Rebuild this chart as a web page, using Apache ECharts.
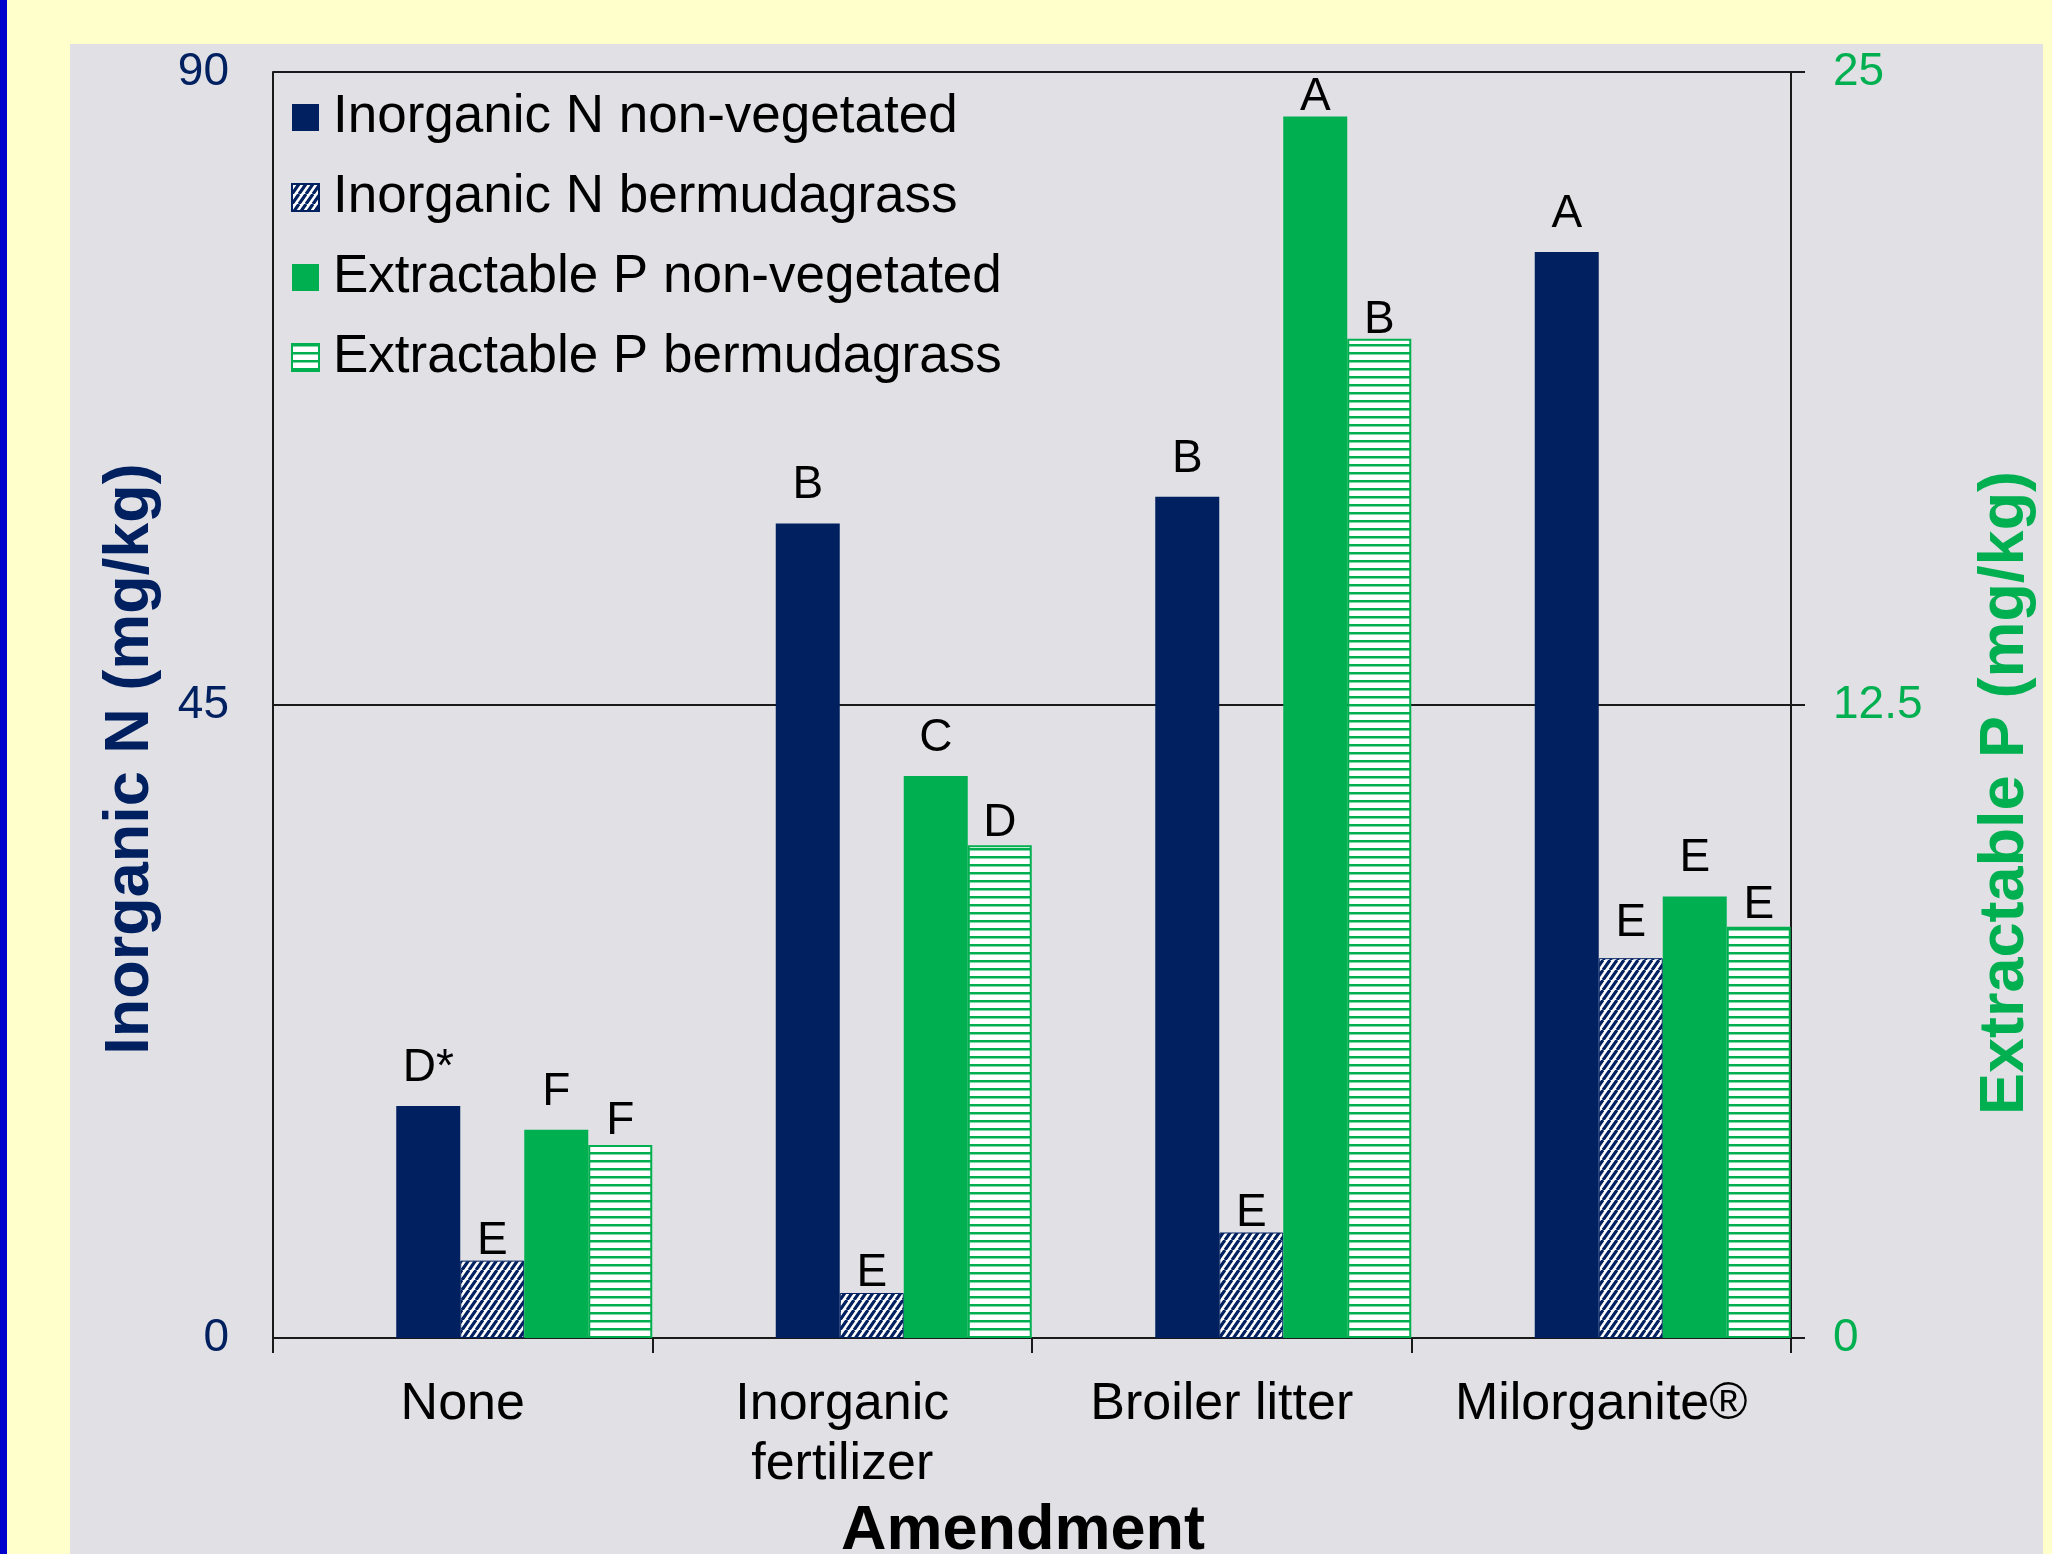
<!DOCTYPE html>
<html>
<head>
<meta charset="utf-8">
<title>Inorganic N and extractable P by amendment</title>
<script src="https://cdn.jsdelivr.net/npm/echarts@6/dist/echarts.min.js"></script>
<style>
  html, body { margin: 0; padding: 0; }
  body { width: 2052px; height: 1554px; background: #ffffcc; position: relative; overflow: hidden; }
  .stripe { position: absolute; left: 0; top: 0; width: 7px; height: 100%; background: #0000cc; }
  .panel { position: absolute; left: 70px; top: 44px; width: 1973px; bottom: 0; background: #e0e0e5; }
  #chart { position: absolute; left: 0; top: 0; width: 2052px; height: 1554px; }
</style>
</head>
<body>
<div class="stripe"></div>
<div class="panel"></div>
<div id="chart"></div>
<script>
  // data
  const categories = ['None', 'Inorganic\nfertilizer', 'Broiler litter', 'Milorganite®'];
  const nNonVeg = [16.5, 57.9, 59.8, 77.2];
  const nBermuda = [5.5, 3.2, 7.5, 27.0];
  const pNonVeg = [4.11, 11.1, 24.12, 8.72];
  const pBermuda = [3.81, 9.73, 19.73, 8.12];
  const nNonVegLetters = ['D*', 'B', 'B', 'A'];
  const nBermudaLetters = ['E', 'E', 'E', 'E'];
  const pNonVegLetters = ['F', 'C', 'A', 'E'];
  const pBermudaLetters = ['F', 'D', 'B', 'E'];
  const nTicks = [0, 45, 90];
  const pTicks = [0, 12.5, 25];

  const NAVY = '#002060';
  const GREEN = '#00b050';
  const AXIS = '#1a1a1a';
  const FONT = '"Liberation Sans", Arial, sans-serif';

  // the letters were hand placed in the original, so gaps above bars differ a little
  const nNonVegGap = [15, 15, 15, 15];
  const nBermudaGap = [-4, -3, -4, 12];
  const pNonVegGap = [15, 15, -4, 15];
  const pBermudaGap = [1, -1, -4, -2];

  // diagonal navy hatch
  function hatchPattern() {
    const c = document.createElement('canvas');
    c.width = 7; c.height = 10;
    const g = c.getContext('2d');
    g.fillStyle = '#ffffff';
    g.fillRect(0, 0, 7, 10);
    g.strokeStyle = NAVY;
    g.lineWidth = 3.2;
    g.beginPath();
    [-7, 0, 7].forEach(function (dx) {
      g.moveTo(dx, 10);
      g.lineTo(dx + 7, 0);
    });
    g.stroke();
    return c;
  }

  // horizontal green lines
  function linePattern() {
    const c = document.createElement('canvas');
    c.width = 8; c.height = 8;
    const g = c.getContext('2d');
    g.fillStyle = '#ffffff';
    g.fillRect(0, 0, 8, 8);
    g.fillStyle = GREEN;
    g.fillRect(0, 0, 8, 2.5);
    return c;
  }

  function withLabels(values, letters, gaps) {
    return values.map(function (v, i) {
      return {
        value: v,
        label: {
          show: true,
          position: 'top',
          distance: gaps[i],
          fontSize: 46,
          fontFamily: FONT,
          color: '#000',
          formatter: letters[i]
        }
      };
    });
  }

  const chart = echarts.init(document.getElementById('chart'));

  const option = {
    animation: false,
    textStyle: { fontFamily: FONT },
    grid: { left: 273, right: 261, top: 72, bottom: 216, containLabel: false, outerBoundsMode: 'none' },
    legend: {
      data: ['Inorganic N non-vegetated', 'Inorganic N bermudagrass', 'Extractable P non-vegetated', 'Extractable P bermudagrass'],
      orient: 'vertical',
      left: 291,
      top: 91,
      padding: 0,
      itemWidth: 27,
      itemHeight: 27,
      itemGap: 27,
      icon: 'rect',
      textStyle: { fontSize: 53, color: '#000', lineHeight: 53, fontFamily: FONT, padding: [0, 0, 0, 9] }
    },
    xAxis: {
      type: 'category',
      data: categories,
      axisLine: { lineStyle: { color: AXIS, width: 2 } },
      axisTick: { show: true, length: 15, lineStyle: { color: AXIS, width: 2 } },
      axisLabel: { interval: 0, fontSize: 52, color: '#000', lineHeight: 60, margin: 37 },
      name: 'Amendment',
      nameLocation: 'middle',
      nameGap: 161,
      nameTextStyle: { fontSize: 63, fontWeight: 'bold', color: '#000', lineHeight: 63, padding: [0, 18, 0, 0] }
    },
    yAxis: [
      {
        type: 'value',
        position: 'left',
        min: nTicks[0],
        max: nTicks[nTicks.length - 1],
        interval: nTicks[1] - nTicks[0],
        axisLine: { show: true, lineStyle: { color: AXIS, width: 2 } },
        axisTick: { show: false },
        splitLine: { show: true, lineStyle: { color: AXIS, width: 2 } },
        axisLabel: { fontSize: 46, color: NAVY, margin: 44 },
        name: 'Inorganic N (mg/kg)',
        nameLocation: 'middle',
        nameRotate: 90,
        nameGap: 111,
        nameTextStyle: { fontSize: 63, fontWeight: 'bold', color: NAVY, padding: [0, 108, 0, 0] }
      },
      {
        type: 'value',
        position: 'right',
        min: pTicks[0],
        max: pTicks[pTicks.length - 1],
        interval: pTicks[1] - pTicks[0],
        axisLine: { show: true, lineStyle: { color: AXIS, width: 2 } },
        axisTick: { show: true, length: 14, lineStyle: { color: AXIS, width: 2 } },
        splitLine: { show: false },
        axisLabel: { fontSize: 46, color: GREEN, margin: 42 },
        name: 'Extractable P (mg/kg)',
        nameLocation: 'middle',
        nameRotate: 90,
        nameGap: 183,
        nameTextStyle: { fontSize: 63, fontWeight: 'bold', color: GREEN, padding: [0, 176, 0, 0] }
      }
    ],
    series: [
      // empty spacer so the four bars sit in the right part of each category
      {
        name: 'spacer',
        type: 'bar',
        data: categories.map(function () { return '-'; }),
        barWidth: 123,
        barGap: 0,
        silent: true
      },
      {
        name: 'Inorganic N non-vegetated',
        type: 'bar',
        yAxisIndex: 0,
        data: withLabels(nNonVeg, nNonVegLetters, nNonVegGap),
        barWidth: 64,
        barGap: 0,
        itemStyle: { color: NAVY }
      },
      {
        name: 'Inorganic N bermudagrass',
        type: 'bar',
        yAxisIndex: 0,
        data: withLabels(nBermuda, nBermudaLetters, nBermudaGap),
        barWidth: 64,
        barGap: 0,
        itemStyle: { color: { image: hatchPattern(), repeat: 'repeat' }, borderColor: NAVY, borderWidth: 1 }
      },
      {
        name: 'Extractable P non-vegetated',
        type: 'bar',
        yAxisIndex: 1,
        data: withLabels(pNonVeg, pNonVegLetters, pNonVegGap),
        barWidth: 64,
        barGap: 0,
        itemStyle: { color: GREEN }
      },
      {
        name: 'Extractable P bermudagrass',
        type: 'bar',
        yAxisIndex: 1,
        data: withLabels(pBermuda, pBermudaLetters, pBermudaGap),
        barWidth: 64,
        barGap: 0,
        itemStyle: { color: { image: linePattern(), repeat: 'repeat' }, borderColor: GREEN, borderWidth: 2 }
      }
    ]
  };

  chart.setOption(option);
</script>
</body>
</html>
